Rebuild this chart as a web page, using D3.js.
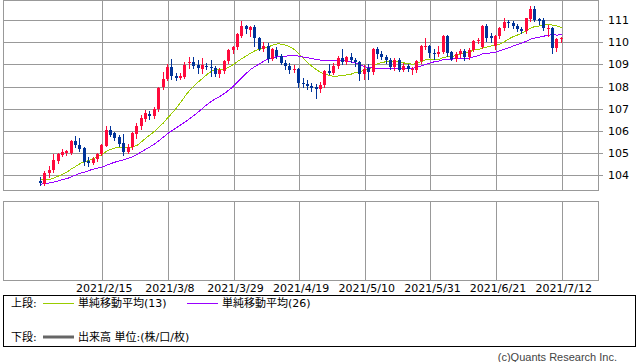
<!DOCTYPE html>
<html><head><meta charset="utf-8">
<script src="https://cdn.jsdelivr.net/npm/d3@7"></script>
<style>body{margin:0;background:#fff}svg{display:block}</style>
</head><body>
<svg id="c" width="638" height="362"></svg>
<script>
// ---- data ----
const dates = [
"01-26","01-27","01-28","01-29",
"02-01","02-02","02-03","02-04","02-05","02-08","02-09","02-10","02-11","02-12",
"02-15","02-16","02-17","02-18","02-19","02-22","02-23","02-24","02-25","02-26",
"03-01","03-02","03-03","03-04","03-05","03-08","03-09","03-10","03-11","03-12",
"03-15","03-16","03-17","03-18","03-19","03-22","03-23","03-24","03-25","03-26",
"03-29","03-30","03-31","04-01","04-02","04-05","04-06","04-07","04-08","04-09",
"04-12","04-13","04-14","04-15","04-16","04-19","04-20","04-21","04-22","04-23",
"04-26","04-27","04-28","04-29","04-30","05-03","05-04","05-05","05-06","05-07",
"05-10","05-11","05-12","05-13","05-14","05-17","05-18","05-19","05-20","05-21",
"05-24","05-25","05-26","05-27","05-28","05-31","06-01","06-02","06-03","06-04",
"06-07","06-08","06-09","06-10","06-11","06-14","06-15","06-16","06-17","06-18",
"06-21","06-22","06-23","06-24","06-25","06-28","06-29","06-30","07-01","07-02",
"07-05","07-06","07-07","07-08","07-09","07-12"];
const open = [
103.76,103.62,104.08,104.22,104.66,104.90,105.00,105.02,105.55,105.38,
105.24,104.64,104.55,104.72,104.96,105.34,106.04,105.90,105.74,105.44,
105.07,105.29,105.85,106.20,106.54,106.77,106.68,106.98,107.97,108.35,
108.90,108.48,108.38,108.45,109.05,109.12,108.98,108.78,108.92,108.90,
108.84,108.58,108.70,109.15,109.64,109.78,110.30,110.72,110.58,110.68,
110.18,109.72,109.84,109.27,109.66,109.38,109.06,108.92,108.74,108.80,
108.16,108.10,108.04,108.00,107.88,108.07,108.72,108.60,108.92,109.30,
109.10,109.35,109.20,109.10,108.57,108.82,108.65,109.70,109.48,109.35,
109.22,108.89,109.22,108.77,108.95,108.73,108.75,109.14,109.80,109.85,
109.52,109.48,109.55,110.30,109.55,109.25,109.47,109.63,109.33,109.67,
110.06,109.80,110.72,110.30,109.85,110.27,110.66,110.94,110.87,110.76,
110.61,110.50,111.05,111.52,111.05,111.00,110.62,110.65,109.75,110.13];
const high = [
103.92,104.20,104.40,104.94,105.00,105.18,105.15,105.60,105.77,105.70,
105.26,104.80,104.80,105.02,105.42,106.22,106.22,105.95,105.80,105.86,
105.40,105.95,106.35,106.70,106.95,106.90,107.10,108.00,108.64,109.00,
109.25,108.60,108.60,109.10,109.35,109.35,109.22,109.30,109.05,109.20,
108.92,108.82,109.22,109.70,109.85,110.40,110.97,110.80,110.76,110.78,
110.25,110.00,109.96,109.75,109.80,109.48,109.18,109.05,108.98,108.82,
108.40,108.30,108.15,108.10,108.20,108.75,109.00,109.05,109.40,109.70,
109.40,109.50,109.30,109.15,108.98,109.00,109.75,109.78,109.60,109.45,
109.30,109.30,109.30,109.05,109.02,108.90,109.20,109.90,110.20,109.90,
109.68,109.85,110.33,110.35,109.60,109.55,109.70,109.70,109.75,110.10,
110.18,110.80,110.82,110.40,110.35,110.70,111.10,111.00,110.95,110.85,
110.70,111.12,111.65,111.65,111.12,111.10,110.78,110.70,110.20,110.24];
const low = [
103.56,103.55,103.92,104.16,104.55,104.85,104.90,104.95,105.28,105.08,
104.45,104.40,104.50,104.62,104.90,105.30,105.78,105.60,105.30,104.92,
104.98,105.20,105.70,106.10,106.45,106.55,106.60,106.92,107.90,108.30,
108.35,108.30,108.33,108.40,108.85,108.85,108.60,108.62,108.80,108.50,
108.50,108.42,108.60,109.05,109.50,109.70,110.25,110.40,110.30,109.85,
109.65,109.60,109.10,109.20,109.30,109.00,108.80,108.60,108.65,107.98,
107.98,107.90,107.80,107.48,107.75,108.00,108.55,108.55,108.85,109.00,
109.00,109.10,108.95,108.32,108.35,108.34,108.55,109.30,109.25,109.05,
108.80,108.75,108.70,108.70,108.70,108.55,108.65,109.05,109.70,109.35,
109.26,109.40,109.50,109.40,109.20,109.15,109.35,109.20,109.25,109.60,
109.95,109.75,110.05,110.00,109.70,110.20,110.55,110.70,110.65,110.50,
110.40,110.40,110.95,110.95,110.85,110.55,110.30,109.52,109.60,110.00];
const close = [
103.63,104.10,104.24,104.70,104.96,105.06,105.08,105.55,105.35,105.20,
104.58,104.55,104.72,104.96,105.38,106.04,105.82,105.67,105.42,105.07,
105.29,105.90,106.23,106.60,106.80,106.68,106.98,107.95,108.35,108.88,
108.46,108.40,108.50,108.98,109.12,108.95,108.84,108.97,108.88,108.82,
108.58,108.74,109.17,109.66,109.80,110.36,110.72,110.60,110.70,110.18,
109.72,109.85,109.27,109.68,109.38,109.06,108.92,108.76,108.80,108.16,
108.10,108.04,107.96,107.88,108.07,108.72,108.60,108.95,109.30,109.10,
109.35,109.20,109.10,108.57,108.80,108.65,109.70,109.48,109.35,109.22,
108.89,109.22,108.77,108.95,108.78,108.78,109.14,109.85,109.85,109.52,
109.48,109.58,110.30,109.50,109.25,109.47,109.63,109.33,109.67,110.06,
110.10,110.72,110.20,110.20,110.27,110.66,110.94,110.87,110.76,110.61,
110.53,111.10,111.52,111.02,110.95,110.65,110.66,109.75,110.15,110.18];
// closes of the 25 sessions before the first shown day (needed for the averages)
const priorCloses = [
103.32,103.63,103.55,103.62,103.55,103.80,103.53,103.21,103.25,
103.14,102.71,103.05,103.80,103.94,104.25,103.76,103.89,103.86,103.86,
103.68,103.88,103.55,103.52,103.78,103.76];
const yTicks = [104,105,106,107,108,109,110,111];
const xTickDates = ["02-15","03-08","03-29","04-19","05-10","05-31","06-21","07-12"];
const xTickLabels = ["2021/2/15","2021/3/8","2021/3/29","2021/4/19","2021/5/10","2021/5/31","2021/6/21","2021/7/12"];
const maPeriods = [13, 26];
const maLabels = ["単純移動平均(13)", "単純移動平均(26)"];

// ---- drawing ----
const svg = d3.select("#c");
const W = 638;
const upTop = 0.5, upBot = 190.5, left = 3.5, right = 598.5;
const lowTop = 201.5, lowBot = 280.5;
const RED = "#ff0a3c", BLUE = "#003399", GRID = "#999999";
const MA_COL = ["#99cc00", "#9900ff"];
const numFont = "DejaVu Sans, Noto Sans CJK JP, sans-serif";

const x = d3.scalePoint().domain(dates).range([41.05, 561.7]);
const y = d3.scaleLinear().domain([104, 111]).range([175.2, 20.2]);
const px = v => Math.round(v) + 0.5;

svg.append("rect").attr("width", W).attr("height", 362).attr("fill", "#fff");

// horizontal grid + y labels
const gY = svg.append("g");
yTicks.forEach(t => {
  const yy = px(y(t));
  gY.append("line").attr("x1", left).attr("x2", 603).attr("y1", yy).attr("y2", yy)
    .attr("stroke", GRID).attr("shape-rendering", "crispEdges");
  gY.append("text").attr("x", 608).attr("y", yy).attr("dy", "0.36em")
    .attr("font-family", numFont).attr("font-size", 11).attr("fill", "#000").text(t);
});
// vertical grid
xTickDates.forEach((d, k) => {
  const xx = px(x(d));
  svg.append("line").attr("x1", xx).attr("x2", xx).attr("y1", upTop).attr("y2", upBot)
    .attr("stroke", GRID).attr("shape-rendering", "crispEdges");
  svg.append("line").attr("x1", xx).attr("x2", xx).attr("y1", lowTop).attr("y2", lowBot)
    .attr("stroke", GRID).attr("shape-rendering", "crispEdges");
  svg.append("text").attr("x", x(d) + 2).attr("y", 292).attr("text-anchor", "middle")
    .attr("font-family", numFont).attr("font-size", 11).attr("fill", "#000").text(xTickLabels[k]);
});
// panel frames
svg.append("rect").attr("x", left).attr("y", upTop).attr("width", right - left).attr("height", upBot - upTop)
  .attr("fill", "none").attr("stroke", GRID).attr("shape-rendering", "crispEdges");
svg.append("rect").attr("x", left).attr("y", lowTop).attr("width", right - left).attr("height", lowBot - lowTop)
  .attr("fill", "none").attr("stroke", GRID).attr("shape-rendering", "crispEdges");

// moving averages
const allCloses = priorCloses.concat(close);
const off = priorCloses.length;
maPeriods.forEach((n, k) => {
  const vals = close.map((c, i) => d3.mean(allCloses.slice(off + i - n + 1, off + i + 1)));
  const line = d3.line().x((v, i) => x(dates[i])).y(v => y(v));
  svg.append("path").attr("d", line(vals)).attr("fill", "none")
    .attr("stroke", MA_COL[k]).attr("stroke-width", 1).attr("shape-rendering", "crispEdges");
});

// candles
const gC = svg.append("g").attr("shape-rendering", "crispEdges");
dates.forEach((d, i) => {
  const cx = Math.round(x(d)) - 1;
  const col = close[i] >= open[i] ? RED : BLUE;
  gC.append("line").attr("x1", cx + 0.5).attr("x2", cx + 0.5)
    .attr("y1", Math.round(y(high[i]))).attr("y2", Math.round(y(low[i])) + 1)
    .attr("stroke", col);
  const yt = Math.round(y(Math.max(open[i], close[i])));
  const yb = Math.round(y(Math.min(open[i], close[i])));
  gC.append("rect").attr("x", cx - 1).attr("width", 3)
    .attr("y", yt).attr("height", Math.max(1, yb - yt)).attr("fill", col);
});

// legend box
svg.append("rect").attr("x", 3.5).attr("y", 295.5).attr("width", 632).attr("height", 51)
  .attr("fill", "none").attr("stroke", "#000").attr("shape-rendering", "crispEdges");
const lg = svg.append("g").attr("font-family", numFont).attr("font-size", 11).attr("fill", "#000");
lg.append("text").attr("x", 11).attr("y", 303).attr("dy", "0.36em").text("上段:");
const legX = [43, 187];
maLabels.forEach((t, k) => {
  lg.append("line").attr("x1", legX[k]).attr("x2", legX[k] + 31).attr("y1", 303.5).attr("y2", 303.5)
    .attr("stroke", MA_COL[k]).attr("shape-rendering", "crispEdges");
  lg.append("text").attr("x", legX[k] + 35).attr("y", 303).attr("dy", "0.36em").text(t);
});
lg.append("text").attr("x", 11).attr("y", 337).attr("dy", "0.36em").text("下段:");
lg.append("line").attr("x1", 43).attr("x2", 74).attr("y1", 337).attr("y2", 337)
  .attr("stroke", "#666").attr("stroke-width", 3);
lg.append("text").attr("x", 78).attr("y", 337).attr("dy", "0.36em").text("出来高 単位:(株/口/枚)");

svg.append("text").attr("x", 617).attr("y", 357).attr("dy", "0.36em").attr("text-anchor", "end")
  .attr("font-family", "Liberation Sans, Arial, sans-serif").attr("font-size", 11).attr("fill", "#444")
  .text("(c)Quants Research Inc.");
</script>
</body></html>
